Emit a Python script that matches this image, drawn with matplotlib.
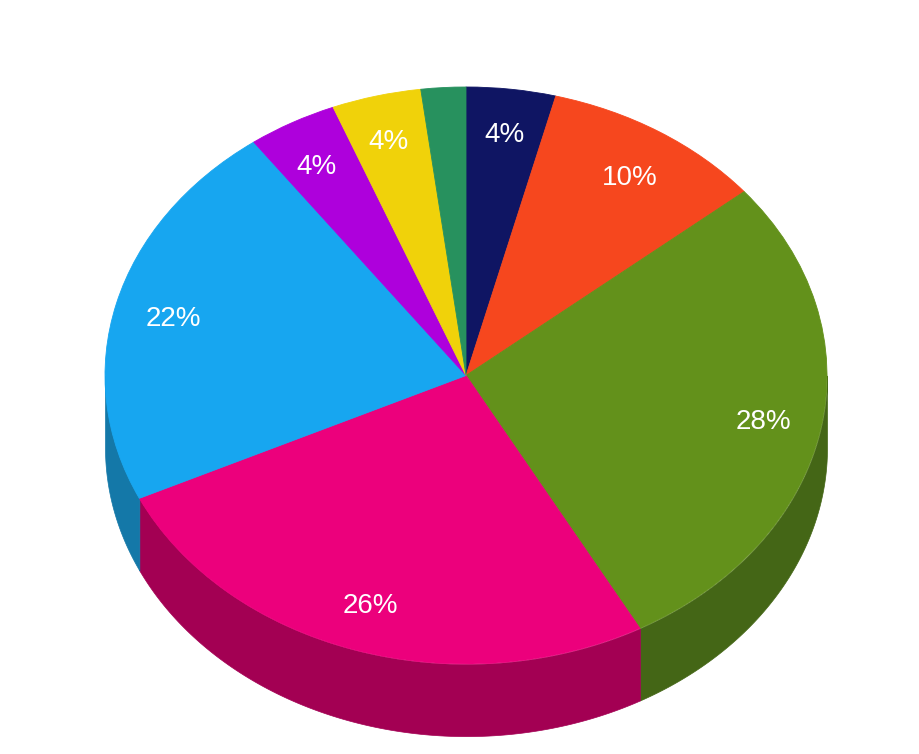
import numpy as np
import matplotlib
matplotlib.use('Agg')
import matplotlib.pyplot as plt

plt.rcParams['font.family'] = ['Liberation Sans', 'DejaVu Sans']

# slices, clockwise from 12 o'clock
values = [4, 10, 28, 26, 22, 4, 4, 2]
top_colors = ['#0F1563', '#F6471E', '#63911B', '#EC007C', '#17A6F0', '#AE00DC', '#F0D20A', '#27915E']
side_colors = ['#0A0E42', '#A42F14', '#446616', '#A30053', '#1478A8', '#740093', '#A08C07', '#1A613F']

depth = 0.25
# small label nudges in pixels (right, up)
nudge_x = [1, 3, 3, -3, -2, -5, -3, 0]
nudge_y = [3, -5, -2, -3, -3, -1, 2, 0]

fig = plt.figure(figsize=(9.2, 7.54), dpi=100)
ax = fig.add_axes([0, 0, 1, 1])

# side wall: only the front half (90..270 deg clockwise from top) shows
edges = np.concatenate([[0], np.cumsum(values)]) / np.sum(values) * 360
for i in range(len(values)):
    a0 = max(edges[i], 90)
    a1 = min(edges[i + 1], 270)
    if a1 <= a0:
        continue
    t = np.radians(np.linspace(a0, a1, 120))
    ax.fill_between(np.sin(t), np.cos(t), np.cos(t) - depth,
                    color=side_colors[i], linewidth=0.5)


def pct(p):
    return '%d%%' % round(p) if p >= 3 else ''


wedges, texts, autotexts = ax.pie(values, colors=top_colors, startangle=90, counterclock=False,
                                  radius=1, autopct=pct, pctdistance=0.83)
for w in wedges:
    w.set_edgecolor(w.get_facecolor())
    w.set_linewidth(0.6)
for a, nx, ny in zip(autotexts, nudge_x, nudge_y):
    a.set_color('white')
    a.set_fontsize(20)
    x, y = a.get_position()
    a.set_position((x + nx / 361, y + ny / 288.5))

ax.set_aspect('auto')
ax.set_xlim(-466 / 361, 454 / 361)
ax.set_ylim(-378.5 / 288.5, 375.5 / 288.5)
ax.axis('off')

fig.savefig('out.png', dpi=100)
